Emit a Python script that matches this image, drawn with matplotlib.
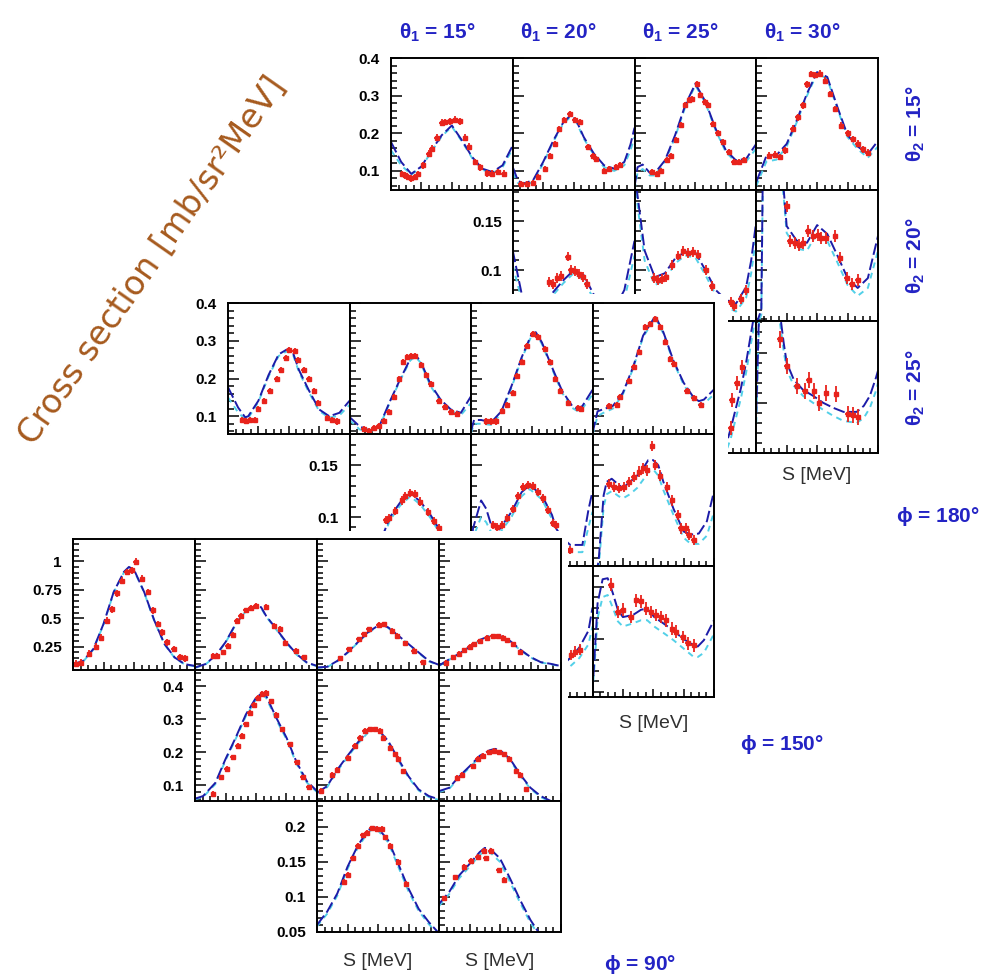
import matplotlib
matplotlib.use("Agg")
import matplotlib.pyplot as plt
from matplotlib.patches import Rectangle
from matplotlib.ticker import MultipleLocator, FuncFormatter

# ---------------------------------------------------------------------------
# data (S in arbitrary 0..120 units along each panel)
# ---------------------------------------------------------------------------
S_GRID = [0, 10, 20, 30, 40, 50, 60, 70, 80, 90, 100, 110, 120]
THETA1 = [15, 20, 25, 30]
THETA2 = [15, 20, 25]
PHI = [180, 150, 90]

# ---- phi = 180 deg ----
A11_s = S_GRID
A11_blue = [0.177, 0.124, 0.092, 0.112, 0.155, 0.195, 0.221, 0.181, 0.137, 0.106, 0.097, 0.115, 0.168]
A11_cyan = [0.155, 0.115, 0.09, 0.11, 0.152, 0.192, 0.218, 0.178, 0.134, 0.103, 0.094, 0.11, 0.16]
A11_ds = [11, 14, 17, 20, 24, 27, 32, 37, 40, 45, 50, 53, 58, 63, 68, 73, 77, 83, 88, 95, 100, 105, 111]
A11_dv = [0.092, 0.088, 0.084, 0.08, 0.084, 0.092, 0.115, 0.146, 0.159, 0.188, 0.228, 0.23, 0.232, 0.236,
          0.232, 0.188, 0.164, 0.124, 0.11, 0.094, 0.093, 0.097, 0.093]
A11_err = 0.009

A12_s = [0, 5, 10, 20, 30, 40, 50, 56, 62, 70, 80, 90, 100, 110, 116, 120]
A12_blue = [0.11, 0.075, 0.066, 0.075, 0.124, 0.181, 0.23, 0.245, 0.238, 0.19, 0.146, 0.115, 0.106, 0.124, 0.17, 0.215]
A12_cyan = [0.095, 0.068, 0.062, 0.07, 0.12, 0.178, 0.227, 0.241, 0.234, 0.186, 0.142, 0.11, 0.1, 0.115, 0.155, 0.19]
A12_ds = [8, 14, 20, 25, 32, 37, 42, 46, 51, 56, 61, 66, 74, 79, 82, 90, 95, 102, 106]
A12_dv = [0.066, 0.064, 0.068, 0.084, 0.106, 0.141, 0.172, 0.212, 0.235, 0.252, 0.236, 0.23, 0.164, 0.141,
          0.132, 0.101, 0.106, 0.11, 0.115]
A12_err = 0.008

A13_s = [0, 3, 8, 15, 20, 30, 40, 50, 60, 70, 80, 90, 100, 110, 120]
A13_blue = [0.057, 0.11, 0.117, 0.095, 0.094, 0.128, 0.195, 0.275, 0.332, 0.284, 0.212, 0.155, 0.128, 0.132, 0.172]
A13_cyan = [0.05, 0.095, 0.105, 0.088, 0.088, 0.124, 0.19, 0.27, 0.328, 0.28, 0.208, 0.15, 0.123, 0.125, 0.16]
A13_ds = [17, 22, 26, 32, 36, 41, 46, 50, 54, 57, 62, 65, 69, 72, 77, 82, 87, 93, 98, 103, 108]
A13_dv = [0.097, 0.092, 0.101, 0.128, 0.141, 0.181, 0.221, 0.275, 0.288, 0.292, 0.332, 0.301, 0.284, 0.275,
          0.226, 0.2, 0.177, 0.15, 0.124, 0.124, 0.128]
A13_err = 0.008

A14_s = S_GRID
A14_blue = [0.07, 0.14, 0.142, 0.172, 0.235, 0.306, 0.363, 0.35, 0.27, 0.195, 0.165, 0.145, 0.18]
A14_cyan = [0.06, 0.125, 0.13, 0.165, 0.23, 0.3, 0.36, 0.345, 0.265, 0.19, 0.158, 0.135, 0.165]
A14_ds = [13, 18, 23, 28, 36, 41, 46, 50, 54, 58, 63, 68, 73, 78, 84, 90, 95, 100, 105, 110]
A14_dv = [0.141, 0.143, 0.137, 0.155, 0.212, 0.243, 0.275, 0.33, 0.358, 0.355, 0.359, 0.34, 0.305, 0.265,
          0.22, 0.2, 0.185, 0.172, 0.158, 0.148]
A14_err = 0.009

A22_s = S_GRID
A22_blue = [0.12, 0.07, 0.058, 0.065, 0.078, 0.09, 0.1, 0.095, 0.075, 0.06, 0.06, 0.08, 0.13]
A22_cyan = [0.105, 0.065, 0.055, 0.06, 0.075, 0.087, 0.097, 0.09, 0.07, 0.055, 0.055, 0.07, 0.115]
A22_ds = [36, 40, 44, 48, 54, 57, 61, 65, 69, 73]
A22_dv = [0.088, 0.086, 0.092, 0.094, 0.114, 0.1, 0.099, 0.096, 0.093, 0.086]
A22_err = 0.005

A23_s = [0, 10, 20, 30, 40, 50, 60, 70, 80, 90, 100, 110, 115, 120]
A23_blue = [0.2, 0.12, 0.093, 0.097, 0.112, 0.119, 0.118, 0.1, 0.08, 0.07, 0.066, 0.083, 0.11, 0.15]
A23_cyan = [0.19, 0.11, 0.085, 0.09, 0.107, 0.115, 0.113, 0.095, 0.075, 0.063, 0.058, 0.072, 0.097, 0.135]
A23_ds = [19, 23, 27, 31, 37, 43, 48, 53, 58, 63, 70, 76, 95, 98, 105, 110]
A23_dv = [0.092, 0.09, 0.091, 0.093, 0.105, 0.115, 0.12, 0.118, 0.119, 0.116, 0.1, 0.084, 0.068, 0.064, 0.071, 0.08]
A23_err = 0.005

A24_s = [0, 5, 7, 20, 27, 30, 40, 50, 60, 70, 80, 90, 100, 110, 120]
A24_blue = [0.045, 0.06, 0.25, 0.25, 0.183, 0.145, 0.13, 0.128, 0.146, 0.137, 0.115, 0.092, 0.082, 0.092, 0.135]
A24_cyan = [0.04, 0.055, 0.24, 0.24, 0.175, 0.138, 0.122, 0.12, 0.138, 0.13, 0.108, 0.085, 0.074, 0.082, 0.12]
A24_ds = [30, 33, 38, 42, 46, 51, 56, 61, 64, 69, 78, 83, 89, 94, 100]
A24_dv = [0.165, 0.13, 0.128, 0.126, 0.128, 0.14, 0.135, 0.136, 0.133, 0.133, 0.135, 0.113, 0.092, 0.086, 0.09]
A24_err = 0.006

A33_s = [88, 95, 100, 105, 110, 115, 120]
A33_blue = [0.05, 0.075, 0.095, 0.115, 0.14, 0.17, 0.2]
A33_cyan = [0.045, 0.065, 0.085, 0.105, 0.13, 0.16, 0.19]
A33_ds = [95, 96, 101, 106]
A33_dv = [0.075, 0.103, 0.12, 0.136]
A33_err = 0.007

A34_s = [0, 3, 8, 22, 27, 30, 37, 46, 56, 66, 76, 86, 99, 106, 112, 118, 120]
A34_blue = [0.09, 0.2, 0.25, 0.2, 0.16, 0.14, 0.123, 0.113, 0.107, 0.1, 0.095, 0.091, 0.091, 0.097, 0.107, 0.125, 0.132]
A34_cyan = [0.08, 0.19, 0.24, 0.19, 0.152, 0.133, 0.117, 0.107, 0.1, 0.093, 0.087, 0.082, 0.08, 0.085, 0.095, 0.112, 0.12]
A34_ds = [23, 30, 40, 48, 52, 57, 62, 69, 79, 90, 95, 100]
A34_dv = [0.163, 0.137, 0.117, 0.112, 0.123, 0.112, 0.1, 0.11, 0.109, 0.089, 0.088, 0.086]
A34_err = 0.008

# ---- phi = 150 deg ----
B11_s = [0, 10, 17, 20, 30, 40, 50, 58, 64, 70, 80, 90, 100, 110, 120]
B11_blue = [0.177, 0.123, 0.097, 0.1, 0.141, 0.209, 0.264, 0.277, 0.27, 0.223, 0.168, 0.118, 0.1, 0.109, 0.141]
B11_cyan = [0.15, 0.11, 0.092, 0.095, 0.138, 0.205, 0.26, 0.272, 0.265, 0.218, 0.163, 0.114, 0.096, 0.102, 0.13]
B11_ds = [14, 18, 22, 27, 30, 36, 41, 48, 52, 57, 60, 66, 69, 75, 80, 85, 89, 98, 103, 108]
B11_dv = [0.09, 0.088, 0.09, 0.09, 0.118, 0.141, 0.168, 0.2, 0.223, 0.255, 0.275, 0.272, 0.25, 0.223,
          0.2, 0.168, 0.136, 0.095, 0.09, 0.086]
B11_err = 0.008

B12_s = [0, 10, 20, 30, 40, 50, 60, 65, 70, 80, 90, 100, 110, 120]
B12_blue = [0.098, 0.073, 0.062, 0.077, 0.14, 0.198, 0.252, 0.262, 0.247, 0.185, 0.144, 0.118, 0.109, 0.153]
B12_cyan = [0.09, 0.065, 0.058, 0.075, 0.137, 0.195, 0.248, 0.258, 0.243, 0.18, 0.14, 0.114, 0.103, 0.135]
B12_ds = [14, 19, 24, 29, 34, 39, 44, 49, 53, 57, 61, 65, 71, 76, 80, 88, 94, 100, 106]
B12_dv = [0.065, 0.062, 0.07, 0.075, 0.088, 0.11, 0.15, 0.2, 0.245, 0.258, 0.26, 0.26, 0.235, 0.21,
          0.185, 0.14, 0.125, 0.11, 0.105]
B12_err = 0.008

B13_s = [0, 3, 10, 20, 30, 40, 50, 60, 64, 70, 80, 90, 100, 105, 110, 120]
B13_blue = [0.06, 0.09, 0.09, 0.084, 0.113, 0.18, 0.256, 0.319, 0.323, 0.296, 0.23, 0.167, 0.127, 0.12, 0.127, 0.17]
B13_cyan = [0.055, 0.08, 0.08, 0.077, 0.108, 0.176, 0.252, 0.315, 0.319, 0.292, 0.226, 0.162, 0.122, 0.114, 0.12, 0.158]
B13_ds = [15, 20, 25, 31, 36, 41, 45, 50, 55, 61, 66, 73, 78, 83, 88, 96, 106, 109]
B13_dv = [0.086, 0.086, 0.086, 0.113, 0.13, 0.162, 0.207, 0.243, 0.287, 0.319, 0.31, 0.278, 0.243, 0.198,
          0.167, 0.135, 0.122, 0.12]
B13_err = 0.008

B14_s = [0, 5, 10, 20, 30, 40, 50, 62, 70, 80, 90, 100, 105, 110, 120]
B14_blue = [0.055, 0.113, 0.118, 0.127, 0.162, 0.23, 0.314, 0.366, 0.323, 0.247, 0.189, 0.149, 0.14, 0.144, 0.171]
B14_cyan = [0.05, 0.1, 0.108, 0.12, 0.158, 0.226, 0.31, 0.362, 0.319, 0.243, 0.184, 0.142, 0.132, 0.133, 0.158]
B14_ds = [16, 24, 27, 36, 41, 46, 52, 57, 62, 67, 72, 77, 80, 93, 100, 107]
B14_dv = [0.127, 0.131, 0.15, 0.194, 0.23, 0.27, 0.337, 0.345, 0.359, 0.337, 0.297, 0.252, 0.238, 0.167, 0.149, 0.131]
B14_err = 0.008

B22_s = S_GRID
B22_blue = [0.06, 0.055, 0.058, 0.075, 0.1, 0.114, 0.123, 0.115, 0.102, 0.086, 0.07, 0.065, 0.07]
B22_cyan = [0.055, 0.05, 0.055, 0.072, 0.097, 0.111, 0.12, 0.112, 0.099, 0.083, 0.066, 0.06, 0.064]
B22_ds = [36, 39, 45, 52, 55, 60, 65, 70, 78, 83, 88]
B22_dv = [0.097, 0.099, 0.106, 0.116, 0.12, 0.123, 0.122, 0.115, 0.105, 0.096, 0.089]
B22_err = 0.004

B23_s = [0, 2, 10, 15, 20, 28, 40, 50, 58, 70, 80, 84, 90, 98, 110, 116, 120]
B23_blue = [0.07, 0.089, 0.116, 0.108, 0.092, 0.088, 0.105, 0.124, 0.131, 0.121, 0.102, 0.089, 0.08, 0.073,
            0.073, 0.107, 0.125]
B23_cyan = [0.065, 0.08, 0.1, 0.095, 0.085, 0.084, 0.1, 0.12, 0.127, 0.117, 0.098, 0.085, 0.075, 0.066,
            0.066, 0.09, 0.105]
B23_ds = [22, 26, 31, 36, 41, 46, 51, 56, 61, 66, 71, 76, 81, 84, 98]
B23_dv = [0.092, 0.09, 0.092, 0.099, 0.108, 0.12, 0.129, 0.131, 0.13, 0.124, 0.118, 0.107, 0.094, 0.092, 0.068]
B23_err = 0.004

B24_s = [0, 6, 11, 14, 19, 26, 30, 37, 44, 50, 55, 60, 65, 70, 80, 90, 97, 105, 113, 120]
B24_blue = [0.03, 0.057, 0.121, 0.134, 0.137, 0.131, 0.128, 0.134, 0.14, 0.147, 0.155, 0.155, 0.15, 0.134,
            0.108, 0.086, 0.083, 0.084, 0.096, 0.125]
B24_cyan = [0.03, 0.05, 0.11, 0.122, 0.125, 0.12, 0.118, 0.122, 0.128, 0.136, 0.144, 0.146, 0.14, 0.126,
            0.102, 0.08, 0.074, 0.074, 0.082, 0.105]
B24_ds = [16, 21, 26, 31, 36, 41, 46, 50, 54, 59, 62, 67, 74, 79, 84, 87, 92, 95, 100]
B24_dv = [0.132, 0.129, 0.128, 0.129, 0.134, 0.139, 0.144, 0.147, 0.145, 0.169, 0.15, 0.14, 0.129, 0.116,
          0.102, 0.089, 0.089, 0.083, 0.078]
B24_err = 0.005

B33_s = [90, 99, 107, 116, 120]
B33_blue = [0.075, 0.083, 0.092, 0.108, 0.13]
B33_cyan = [0.068, 0.075, 0.082, 0.095, 0.112]
B33_ds = [99, 103, 108]
B33_dv = [0.085, 0.088, 0.09]
B33_err = 0.005

B34_s = [0, 2, 5, 10, 15, 20, 25, 30, 40, 48, 54, 61, 70, 80, 90, 100, 104, 110, 120]
B34_blue = [0.05, 0.083, 0.134, 0.157, 0.158, 0.144, 0.128, 0.121, 0.123, 0.128, 0.129, 0.121, 0.115, 0.108,
            0.1, 0.094, 0.093, 0.099, 0.118]
B34_cyan = [0.05, 0.075, 0.12, 0.14, 0.142, 0.13, 0.117, 0.112, 0.115, 0.118, 0.118, 0.112, 0.106, 0.099,
            0.091, 0.083, 0.083, 0.087, 0.105]
B34_ds = [18, 25, 30, 38, 43, 48, 53, 58, 63, 68, 73, 79, 82, 89, 94, 100]
B34_dv = [0.152, 0.126, 0.128, 0.121, 0.137, 0.136, 0.129, 0.126, 0.123, 0.121, 0.118, 0.11, 0.107, 0.102, 0.096, 0.094]
B34_err = 0.006

# ---- phi = 90 deg ----
C11_s = [0, 10, 20, 30, 40, 50, 55, 60, 70, 80, 90, 100, 110, 120]
C11_blue = [0.097, 0.126, 0.23, 0.45, 0.73, 0.906, 0.95, 0.926, 0.73, 0.48, 0.274, 0.156, 0.097, 0.082]
C11_cyan = [0.09, 0.12, 0.225, 0.445, 0.725, 0.9, 0.945, 0.92, 0.725, 0.475, 0.27, 0.152, 0.094, 0.078]
C11_ds = [3, 8, 16, 23, 28, 33, 38, 43, 48, 53, 58, 62, 68, 74, 79, 84, 88, 92, 99, 105, 110]
C11_dv = [0.1, 0.11, 0.19, 0.25, 0.33, 0.48, 0.58, 0.72, 0.83, 0.906, 0.92, 0.994, 0.847, 0.73, 0.57,
          0.45, 0.376, 0.288, 0.23, 0.16, 0.15]
C11_err = 0.03

C12_s = [0, 10, 20, 30, 40, 50, 60, 65, 70, 80, 90, 100, 110, 120]
C12_blue = [0.068, 0.097, 0.17, 0.29, 0.45, 0.568, 0.6, 0.597, 0.52, 0.406, 0.288, 0.185, 0.112, 0.082]
C12_cyan = [0.064, 0.093, 0.165, 0.285, 0.445, 0.562, 0.594, 0.591, 0.514, 0.4, 0.282, 0.18, 0.108, 0.079]
C12_ds = [18, 22, 28, 32, 37, 41, 45, 50, 55, 60, 70, 78, 84, 89, 99, 107]
C12_dv = [0.17, 0.17, 0.2, 0.26, 0.35, 0.48, 0.52, 0.568, 0.59, 0.61, 0.597, 0.435, 0.406, 0.28, 0.215, 0.156]
C12_err = 0.025

C13_s = [0, 10, 20, 30, 40, 50, 60, 63, 70, 80, 90, 100, 110, 120]
C13_blue = [0.068, 0.074, 0.126, 0.2, 0.288, 0.376, 0.435, 0.444, 0.42, 0.347, 0.274, 0.2, 0.126, 0.091]
C13_cyan = [0.065, 0.071, 0.122, 0.196, 0.284, 0.371, 0.43, 0.439, 0.415, 0.342, 0.269, 0.196, 0.122, 0.088]
C13_ds = [23, 31, 41, 46, 51, 61, 66, 74, 79, 87, 95, 104]
C13_dv = [0.15, 0.23, 0.318, 0.36, 0.406, 0.444, 0.45, 0.39, 0.347, 0.28, 0.215, 0.112]
C13_err = 0.02

C14_s = S_GRID
C14_blue = [0.085, 0.14, 0.19, 0.25, 0.31, 0.345, 0.345, 0.3, 0.225, 0.16, 0.115, 0.1, 0.08]
C14_cyan = [0.082, 0.136, 0.186, 0.246, 0.305, 0.34, 0.34, 0.295, 0.22, 0.156, 0.112, 0.097, 0.077]
C14_ds = [7, 14, 20, 25, 30, 34, 40, 47, 53, 58, 63, 67, 73, 80]
C14_dv = [0.11, 0.16, 0.19, 0.22, 0.25, 0.27, 0.3, 0.33, 0.345, 0.345, 0.33, 0.31, 0.27, 0.2]
C14_err = 0.02

C22_s = [0, 8, 20, 30, 40, 50, 60, 66, 70, 80, 90, 100, 110, 120]
C22_blue = [0.06, 0.068, 0.108, 0.18, 0.245, 0.315, 0.366, 0.38, 0.372, 0.305, 0.245, 0.17, 0.113, 0.083]
C22_cyan = [0.058, 0.065, 0.104, 0.176, 0.241, 0.31, 0.36, 0.374, 0.366, 0.299, 0.24, 0.165, 0.109, 0.08]
C22_ds = [18, 26, 31, 37, 42, 46, 50, 54, 58, 62, 66, 70, 75, 80, 86, 93, 100, 106, 112]
C22_dv = [0.075, 0.125, 0.15, 0.185, 0.22, 0.25, 0.285, 0.32, 0.345, 0.365, 0.378, 0.38, 0.355, 0.315,
          0.27, 0.225, 0.17, 0.125, 0.095]
C22_err = 0.008

C23_s = [0, 10, 20, 30, 40, 50, 55, 60, 70, 80, 90, 100, 110, 120]
C23_blue = [0.078, 0.098, 0.148, 0.19, 0.23, 0.265, 0.272, 0.27, 0.235, 0.18, 0.128, 0.088, 0.068, 0.058]
C23_cyan = [0.075, 0.095, 0.144, 0.186, 0.226, 0.26, 0.267, 0.265, 0.23, 0.176, 0.124, 0.085, 0.065, 0.056]
C23_ds = [4, 15, 20, 30, 37, 42, 47, 52, 57, 62, 65, 72, 77, 80, 85]
C23_dv = [0.083, 0.133, 0.148, 0.184, 0.22, 0.245, 0.265, 0.27, 0.27, 0.265, 0.245, 0.215, 0.195, 0.18, 0.143]
C23_err = 0.008

C24_s = [0, 10, 20, 30, 40, 50, 55, 60, 70, 80, 90, 100, 110, 120]
C24_blue = [0.083, 0.093, 0.128, 0.158, 0.19, 0.207, 0.211, 0.207, 0.18, 0.133, 0.093, 0.068, 0.053, 0.045]
C24_cyan = [0.08, 0.09, 0.124, 0.154, 0.186, 0.203, 0.207, 0.203, 0.176, 0.129, 0.09, 0.065, 0.05, 0.043]
C24_ds = [18, 23, 33, 38, 43, 49, 54, 59, 64, 69, 76, 80, 86]
C24_dv = [0.123, 0.133, 0.158, 0.18, 0.19, 0.2, 0.205, 0.2, 0.194, 0.18, 0.143, 0.133, 0.088]
C24_err = 0.008

C33_s = [0, 10, 20, 30, 40, 50, 55, 60, 70, 80, 90, 100, 110, 120]
C33_blue = [0.06, 0.079, 0.105, 0.143, 0.173, 0.195, 0.2, 0.198, 0.181, 0.147, 0.112, 0.083, 0.064, 0.048]
C33_cyan = [0.058, 0.076, 0.102, 0.14, 0.17, 0.192, 0.197, 0.195, 0.178, 0.143, 0.108, 0.08, 0.061, 0.046]
C33_ds = [27, 30, 35, 40, 45, 49, 54, 59, 64, 67, 72, 80, 88]
C33_dv = [0.121, 0.131, 0.155, 0.173, 0.188, 0.192, 0.198, 0.197, 0.197, 0.185, 0.173, 0.15, 0.119]
C33_err = 0.004

C34_s = [0, 10, 20, 30, 40, 45, 50, 60, 70, 80, 90, 100, 110, 120]
C34_blue = [0.09, 0.107, 0.131, 0.147, 0.164, 0.17, 0.169, 0.155, 0.126, 0.095, 0.067, 0.045, 0.035, 0.03]
C34_cyan = [0.087, 0.104, 0.127, 0.143, 0.16, 0.165, 0.164, 0.15, 0.121, 0.091, 0.063, 0.042, 0.033, 0.028]
C34_ds = [5, 16, 25, 31, 38, 44, 46, 51, 59, 64]
C34_dv = [0.098, 0.128, 0.143, 0.152, 0.157, 0.166, 0.155, 0.166, 0.138, 0.124]
C34_err = 0.004

# y ranges and major tick steps per row
A_YLIM = [(0.05, 0.4005), (0.048, 0.182), (0.05, 0.181)]
B_YLIM = [(0.052, 0.4005), (0.053, 0.18), (0.045, 0.17)]
C_YLIM = [(0.046, 1.195), (0.053, 0.45), (0.0499, 0.237)]
A_MAJOR = [0.1, 0.05, 0.05]
B_MAJOR = [0.1, 0.05, 0.05]
C_MAJOR = [0.25, 0.1, 0.05]

PANELS_A = {
    (0, 0): (A11_s, A11_blue, A11_cyan, A11_ds, A11_dv, A11_err),
    (0, 1): (A12_s, A12_blue, A12_cyan, A12_ds, A12_dv, A12_err),
    (0, 2): (A13_s, A13_blue, A13_cyan, A13_ds, A13_dv, A13_err),
    (0, 3): (A14_s, A14_blue, A14_cyan, A14_ds, A14_dv, A14_err),
    (1, 1): (A22_s, A22_blue, A22_cyan, A22_ds, A22_dv, A22_err),
    (1, 2): (A23_s, A23_blue, A23_cyan, A23_ds, A23_dv, A23_err),
    (1, 3): (A24_s, A24_blue, A24_cyan, A24_ds, A24_dv, A24_err),
    (2, 2): (A33_s, A33_blue, A33_cyan, A33_ds, A33_dv, A33_err),
    (2, 3): (A34_s, A34_blue, A34_cyan, A34_ds, A34_dv, A34_err),
}
PANELS_B = {
    (0, 0): (B11_s, B11_blue, B11_cyan, B11_ds, B11_dv, B11_err),
    (0, 1): (B12_s, B12_blue, B12_cyan, B12_ds, B12_dv, B12_err),
    (0, 2): (B13_s, B13_blue, B13_cyan, B13_ds, B13_dv, B13_err),
    (0, 3): (B14_s, B14_blue, B14_cyan, B14_ds, B14_dv, B14_err),
    (1, 1): (B22_s, B22_blue, B22_cyan, B22_ds, B22_dv, B22_err),
    (1, 2): (B23_s, B23_blue, B23_cyan, B23_ds, B23_dv, B23_err),
    (1, 3): (B24_s, B24_blue, B24_cyan, B24_ds, B24_dv, B24_err),
    (2, 2): (B33_s, B33_blue, B33_cyan, B33_ds, B33_dv, B33_err),
    (2, 3): (B34_s, B34_blue, B34_cyan, B34_ds, B34_dv, B34_err),
}
PANELS_C = {
    (0, 0): (C11_s, C11_blue, C11_cyan, C11_ds, C11_dv, C11_err),
    (0, 1): (C12_s, C12_blue, C12_cyan, C12_ds, C12_dv, C12_err),
    (0, 2): (C13_s, C13_blue, C13_cyan, C13_ds, C13_dv, C13_err),
    (0, 3): (C14_s, C14_blue, C14_cyan, C14_ds, C14_dv, C14_err),
    (1, 1): (C22_s, C22_blue, C22_cyan, C22_ds, C22_dv, C22_err),
    (1, 2): (C23_s, C23_blue, C23_cyan, C23_ds, C23_dv, C23_err),
    (1, 3): (C24_s, C24_blue, C24_cyan, C24_ds, C24_dv, C24_err),
    (2, 2): (C33_s, C33_blue, C33_cyan, C33_ds, C33_dv, C33_err),
    (2, 3): (C34_s, C34_blue, C34_cyan, C34_ds, C34_dv, C34_err),
}

# ---------------------------------------------------------------------------
W, H = 993, 977
BLUE = '#1c1ca8'
CYAN = '#52d0e8'
RED = '#e8231c'
TXT_BLUE = '#2323c4'
BROWN = '#a65a1e'


def draw_grid(fig, left, top, cw, rh, panels, ylims, majors, z):
    for (r, c), (s, blue, cyan, ds, dv, err) in panels.items():
        ax = fig.add_axes([(left + c * cw) / W, 1 - (top + (r + 1) * rh) / H, cw / W, rh / H], zorder=z)
        ax.plot(s, cyan, color=CYAN, lw=1.4, ls=(0, (3, 2.5)))
        ax.plot(s, blue, color=BLUE, lw=1.4, ls=(0, (6, 2)))
        ax.errorbar(ds, dv, yerr=err, xerr=2.5, fmt='s', ms=3.2, color=RED, ecolor=RED,
                    elinewidth=1.3, capsize=0)
        ax.set_xlim(0, 120)
        ax.set_ylim(*ylims[r])
        ax.xaxis.set_major_locator(MultipleLocator(30))
        ax.xaxis.set_minor_locator(MultipleLocator(7.5))
        ax.yaxis.set_major_locator(MultipleLocator(majors[r]))
        ax.yaxis.set_minor_locator(MultipleLocator(majors[r] / 5))
        ax.yaxis.set_major_formatter(FuncFormatter(lambda v, p: f'{v:g}'))
        ax.tick_params(which='both', direction='in', top=False, right=False, width=1.1,
                       labelbottom=False, labelleft=(c == r), labelsize=11)
        ax.tick_params(axis='y', which='major', length=8, pad=8)
        ax.tick_params(axis='y', which='minor', length=4)
        ax.tick_params(axis='x', which='major', length=6)
        ax.tick_params(axis='x', which='minor', length=3.5)
        for sp in ax.spines.values():
            sp.set_linewidth(1.4)


def cover(fig, x0, y0, x1, y1, z):
    fig.add_artist(Rectangle((x0 / W, 1 - y1 / H), (x1 - x0) / W, (y1 - y0) / H,
                             transform=fig.transFigure, facecolor='white', edgecolor='none', zorder=z))


def main():
    plt.rcParams['font.family'] = ['Liberation Sans', 'DejaVu Sans']
    plt.rcParams['font.weight'] = 'bold'
    plt.rcParams['mathtext.default'] = 'regular'
    fig = plt.figure(figsize=(W / 100, H / 100), dpi=100)

    grids = [
        (391, 58, 121.75, 131.7, PANELS_A, A_YLIM, A_MAJOR, 22),
        (228, 303, 121.5, 131.3, PANELS_B, B_YLIM, B_MAJOR, 27),
        (73, 539, 122, 131, PANELS_C, C_YLIM, C_MAJOR, 30),
    ]
    covers = [None, (182, 294, 728, 977), (0, 531, 568, 977)]
    s_label_cols = [(3,), (3,), (2, 3)]
    phi_pos = [(938, 516), (782, 745), (640, 965)]

    for k, (left, top, cw, rh, panels, ylims, majors, soff) in enumerate(grids):
        if covers[k] is not None:
            cover(fig, *covers[k], z=2 * k)
        draw_grid(fig, left, top, cw, rh, panels, ylims, majors, 2 * k + 1)
        for c in s_label_cols[k]:
            fig.text((left + (c + 0.5) * cw) / W, 1 - (top + 3 * rh + soff) / H, 'S [MeV]',
                     ha='center', va='center', fontsize=14, fontweight='normal', color='#303030',
                     zorder=2 * k + 1)
        px, py = phi_pos[k]
        fig.text(px / W, 1 - py / H, r'$\phi$ = %d°' % PHI[k], ha='center', va='center',
                 fontsize=15, color=TXT_BLUE, zorder=10)

    left, top, cw, rh = grids[0][:4]
    for c, t in enumerate(THETA1):
        fig.text((left + (c + 0.5) * cw - 15) / W, 1 - 33 / H, r'$\theta_1$ = %d°' % t,
                 ha='center', va='center', fontsize=15, color=TXT_BLUE, zorder=10)
    for r, t in enumerate(THETA2):
        fig.text(916 / W, 1 - (top + (r + 0.5) * rh) / H, r'$\theta_2$ = %d°' % t, rotation=90,
                 ha='center', va='center', fontsize=15, color=TXT_BLUE, zorder=10)

    fig.text(152 / W, 1 - 260 / H, 'Cross section [mb/sr²MeV]', rotation=55, rotation_mode='anchor',
             ha='center', va='center', fontsize=24, fontweight='normal', color=BROWN,
             family='DejaVu Sans', zorder=10)

    fig.savefig('out.png', dpi=100)
    plt.close(fig)


if __name__ == '__main__':
    main()
